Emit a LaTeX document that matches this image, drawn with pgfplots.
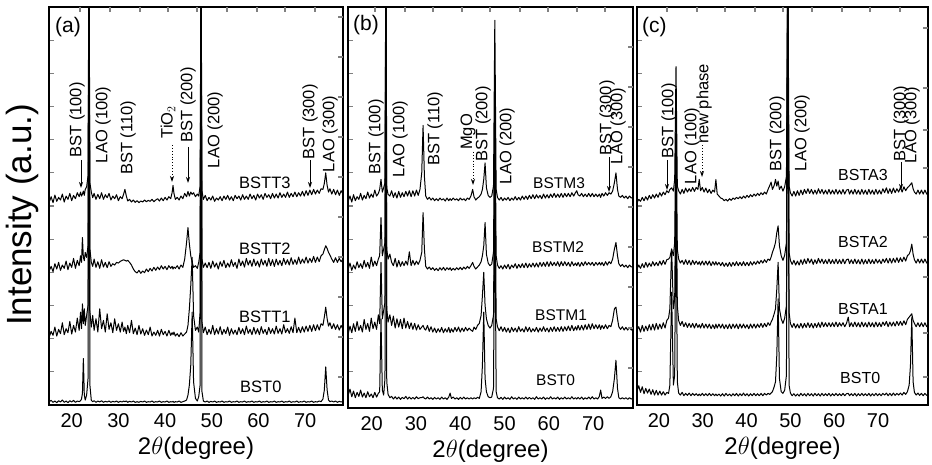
\documentclass[border=0pt]{standalone}
\usepackage{pgfplots}
\pgfplotsset{compat=1.18}
\usepackage{pgfplotstable}
\usepackage{fontspec}
\setmainfont{Liberation Sans}
\usetikzlibrary{arrows.meta}

% Panel (a): BST0, BSTT1, BSTT2, BSTT3
\pgfplotstableread{
x t0 t1 t2 t3
15.2 0.10 2.05 4.05 6.12
15.6 0.14 2.22 4.18 6.28
16.0 0.08 2.10 4.02 6.10
16.4 0.12 2.35 4.26 6.33
16.8 0.07 2.08 4.10 6.14
17.2 0.13 2.28 4.30 6.26
17.6 0.09 2.15 4.06 6.18
18.0 0.15 2.48 4.22 6.36
18.4 0.08 2.12 4.12 6.12
18.8 0.12 2.30 4.34 6.30
19.2 0.07 2.18 4.08 6.20
19.6 0.13 2.52 4.28 6.38
20.0 0.09 2.14 4.15 6.16
20.4 0.14 2.40 4.42 6.32
20.8 0.08 2.20 4.12 6.22
21.2 0.12 2.62 4.36 6.40
21.6 0.10 2.25 4.20 6.28
21.9 0.13 2.80 4.50 6.42
22.1 0.18 2.30 4.30 6.30
22.3 0.35 3.05 5.05 6.36
22.5 1.40 2.45 4.45 6.45
22.7 0.30 2.90 4.35 6.32
22.9 0.15 2.40 4.60 6.50
23.2 0.30 2.70 4.45 6.58
23.5 0.80 3.00 4.80 6.90
23.7 14 14 14 14
23.9 0.60 2.80 4.70 6.70
24.2 0.14 2.35 4.30 6.42
24.5 0.10 2.70 4.18 6.25
24.8 0.13 2.25 4.40 6.38
25.2 0.08 2.60 4.15 6.20
25.6 0.12 2.20 4.32 6.35
26.0 0.09 2.90 4.12 6.22
26.4 0.13 2.30 4.38 6.40
26.8 0.08 2.55 4.16 6.20
27.2 0.11 2.20 4.30 6.34
27.6 0.09 2.75 4.14 6.25
28.0 0.12 2.28 4.32 6.38
28.4 0.08 2.48 4.18 6.18
28.8 0.11 2.18 4.26 6.30
29.2 0.09 2.60 4.22 6.22
29.6 0.12 2.25 4.30 6.34
30.0 0.08 2.45 4.28 6.16
30.4 0.11 2.20 4.33 6.28
30.8 0.09 2.50 4.36 6.22
31.1 0.12 2.22 4.38 6.35
31.4 0.10 2.35 4.36 6.50
31.7 0.12 2.15 4.34 6.30
32.0 0.08 2.40 4.36 6.15
32.4 0.11 2.18 4.30 6.20
32.8 0.09 2.55 4.22 6.12
33.2 0.12 2.15 4.10 6.18
33.6 0.08 2.32 4.02 6.11
34.0 0.10 2.12 3.98 6.16
34.4 0.08 2.40 4.06 6.10
34.8 0.11 2.14 3.97 6.15
35.2 0.09 2.30 4.04 6.12
35.6 0.12 2.10 3.99 6.18
36.0 0.08 2.26 4.10 6.13
36.4 0.10 2.12 4.02 6.17
36.8 0.09 2.35 4.12 6.14
37.2 0.12 2.08 4.04 6.20
37.6 0.08 2.20 4.15 6.13
38.0 0.10 2.10 4.06 6.18
38.4 0.09 2.25 4.16 6.22
38.8 0.12 2.08 4.08 6.15
39.2 0.08 2.28 4.20 6.24
39.6 0.10 2.12 4.10 6.16
40.0 0.09 2.22 4.18 6.26
40.4 0.12 2.08 4.08 6.18
40.8 0.08 2.25 4.20 6.28
41.2 0.10 2.10 4.12 6.22
41.5 0.09 2.18 4.18 6.40
41.7 0.11 2.12 4.10 6.62
41.9 0.08 2.20 4.16 6.38
42.2 0.10 2.08 4.12 6.20
42.6 0.09 2.15 4.20 6.26
43.0 0.12 2.06 4.10 6.18
43.4 0.08 2.18 4.22 6.30
43.8 0.10 2.08 4.15 6.22
44.2 0.12 2.14 4.40 6.38
44.6 0.15 2.20 4.90 6.28
44.9 0.30 2.40 5.35 6.44
45.2 0.60 2.90 4.85 6.30
45.5 1.20 3.60 4.50 6.42
45.8 2.80 4.45 4.30 6.35
46.1 0.70 2.70 4.15 6.40
46.5 0.20 2.25 4.20 6.28
46.9 0.12 2.35 4.12 6.36
47.2 0.25 2.20 4.30 6.30
47.5 0.60 2.80 4.60 6.60
47.7 14 14 14 14
47.9 0.40 2.50 4.40 6.45
48.2 0.12 2.18 4.15 6.20
48.6 0.09 2.35 4.28 6.32
49.0 0.12 2.12 4.14 6.16
49.4 0.08 2.28 4.30 6.26
49.8 0.11 2.14 4.12 6.18
50.2 0.09 2.40 4.34 6.30
50.6 0.12 2.12 4.16 6.14
51.0 0.08 2.30 4.28 6.24
51.4 0.10 2.14 4.10 6.18
51.8 0.09 2.36 4.32 6.28
52.2 0.12 2.12 4.18 6.16
52.6 0.08 2.28 4.36 6.30
53.0 0.10 2.15 4.14 6.20
53.4 0.09 2.35 4.28 6.32
53.8 0.12 2.10 4.16 6.18
54.2 0.08 2.30 4.38 6.28
54.6 0.10 2.14 4.18 6.16
55.0 0.09 2.26 4.30 6.32
55.4 0.12 2.12 4.12 6.22
55.8 0.08 2.34 4.40 6.30
56.2 0.10 2.15 4.20 6.18
56.6 0.09 2.30 4.34 6.34
57.0 0.12 2.12 4.16 6.20
57.4 0.08 2.38 4.42 6.30
57.8 0.10 2.16 4.22 6.20
58.2 0.09 2.28 4.36 6.36
58.6 0.12 2.12 4.18 6.22
59.0 0.08 2.34 4.40 6.32
59.4 0.10 2.14 4.20 6.18
59.8 0.09 2.30 4.34 6.36
60.2 0.12 2.12 4.16 6.24
60.6 0.08 2.36 4.40 6.34
61.0 0.10 2.16 4.22 6.20
61.4 0.09 2.28 4.36 6.38
61.8 0.12 2.12 4.18 6.26
62.2 0.08 2.34 4.42 6.34
62.6 0.10 2.16 4.20 6.22
63.0 0.09 2.30 4.38 6.38
63.4 0.12 2.14 4.18 6.24
63.8 0.08 2.38 4.40 6.36
64.2 0.10 2.16 4.22 6.24
64.6 0.09 2.30 4.36 6.40
65.0 0.12 2.14 4.20 6.26
65.4 0.08 2.42 4.42 6.36
65.8 0.10 2.18 4.24 6.26
66.2 0.09 2.30 4.38 6.42
66.6 0.12 2.16 4.22 6.26
67.0 0.08 2.36 4.44 6.38
67.4 0.10 2.18 4.24 6.28
67.8 0.09 2.62 4.38 6.42
68.2 0.12 2.18 4.24 6.28
68.6 0.08 2.34 4.46 6.40
69.0 0.10 2.18 4.26 6.30
69.4 0.09 2.36 4.40 6.44
69.8 0.12 2.20 4.28 6.30
70.2 0.08 2.38 4.46 6.46
70.6 0.10 2.22 4.28 6.32
71.0 0.09 2.40 4.42 6.48
71.4 0.12 2.22 4.30 6.34
71.8 0.08 2.42 4.48 6.50
72.2 0.10 2.24 4.30 6.36
72.6 0.09 2.42 4.46 6.48
73.0 0.12 2.26 4.32 6.38
73.4 0.10 2.45 4.50 6.52
73.8 0.18 2.40 4.55 6.50
74.1 0.45 2.65 4.68 6.68
74.4 1.15 2.95 4.80 7.00
74.7 0.45 2.60 4.72 6.62
75.0 0.15 2.38 4.60 6.42
75.3 0.10 2.48 4.52 6.52
75.7 0.12 2.30 4.40 6.36
76.1 0.09 2.45 4.30 6.50
76.5 0.12 2.28 4.44 6.34
76.9 0.08 2.42 4.30 6.48
77.3 0.11 2.26 4.42 6.32
77.7 0.09 2.40 4.32 6.46
78.1 0.11 2.28 4.40 6.36
}\tabA

% Panel (b): BST0, BSTM1, BSTM2, BSTM3
\pgfplotstableread{
x t0 t1 t2 t3
14.7 0.30 2.15 4.10 6.15
15.1 0.48 2.38 4.28 6.30
15.5 0.25 2.18 4.06 6.12
15.9 0.42 2.45 4.22 6.34
16.3 0.22 2.22 4.10 6.16
16.7 0.38 2.52 4.32 6.28
17.1 0.26 2.25 4.14 6.20
17.5 0.45 2.40 4.26 6.38
17.9 0.24 2.20 4.12 6.18
18.3 0.36 2.58 4.36 6.32
18.7 0.22 2.28 4.16 6.22
19.1 0.40 2.46 4.30 6.42
19.5 0.25 2.22 4.12 6.24
19.9 0.33 2.62 4.46 6.36
20.3 0.22 2.30 4.18 6.26
20.7 0.38 2.50 4.34 6.48
21.1 0.24 2.28 4.20 6.30
21.5 0.35 2.72 4.40 6.38
21.8 0.40 2.45 4.50 6.50
22.1 2.60 4.30 5.65 6.80
22.4 0.45 2.60 4.50 6.42
22.7 0.30 2.85 4.70 6.55
23.0 0.80 3.10 4.90 6.70
23.2 14 14 14 14
23.4 0.70 2.90 4.70 6.55
23.7 0.32 2.50 4.40 6.35
24.1 0.22 2.72 4.55 6.30
24.5 0.26 2.40 4.30 6.46
24.9 0.18 2.68 4.20 6.26
25.3 0.25 2.32 4.42 6.40
25.7 0.18 2.60 4.16 6.24
26.1 0.24 2.35 4.36 6.44
26.5 0.17 2.58 4.18 6.26
26.9 0.23 2.30 4.32 6.40
27.3 0.19 2.62 4.20 6.28
27.7 0.26 2.32 4.34 6.44
28.1 0.18 2.52 4.22 6.30
28.5 0.24 2.30 4.62 6.46
28.9 0.18 2.48 4.20 6.28
29.3 0.23 2.28 4.36 6.46
29.7 0.18 2.46 4.22 6.30
30.1 0.25 2.26 4.34 6.48
30.5 0.19 2.42 4.24 6.32
30.9 0.22 2.28 4.36 6.50
31.3 0.22 2.35 4.60 7.00
31.6 0.25 2.40 5.80 8.43
31.9 0.20 2.30 4.70 6.90
32.2 0.18 2.26 4.18 6.30
32.6 0.24 2.40 4.10 6.20
33.0 0.18 2.22 4.16 6.26
33.4 0.22 2.36 4.08 6.18
33.8 0.17 2.20 4.14 6.24
34.2 0.23 2.32 4.06 6.16
34.6 0.18 2.18 4.12 6.22
35.0 0.22 2.30 4.05 6.16
35.4 0.17 2.20 4.14 6.24
35.8 0.24 2.34 4.07 6.18
36.2 0.18 2.18 4.15 6.22
36.6 0.22 2.30 4.06 6.15
37.0 0.17 2.20 4.14 6.24
37.4 0.24 2.34 4.08 6.16
37.7 0.36 2.18 4.14 6.22
38.0 0.20 2.30 4.06 6.17
38.4 0.24 2.20 4.12 6.24
38.8 0.18 2.34 4.07 6.18
39.2 0.22 2.22 4.14 6.22
39.6 0.17 2.35 4.08 6.16
40.0 0.23 2.20 4.15 6.24
40.4 0.18 2.32 4.08 6.18
40.8 0.24 2.22 4.16 6.22
41.2 0.18 2.34 4.10 6.16
41.6 0.22 2.24 4.18 6.24
42.0 0.18 2.32 4.12 6.20
42.4 0.22 2.26 4.20 6.30
42.8 0.18 2.22 4.30 6.50
43.1 0.22 2.35 4.18 6.28
43.5 0.19 2.28 4.10 6.18
43.9 0.23 2.40 4.16 6.24
44.3 0.20 2.46 4.22 6.28
44.7 0.40 2.70 4.32 6.36
45.0 1.20 3.30 4.50 6.50
45.3 2.80 4.00 4.80 6.80
45.6 0.80 3.00 5.50 7.30
45.9 0.40 2.60 4.55 6.55
46.3 0.25 2.40 4.28 6.32
46.7 0.22 2.32 4.20 6.26
47.1 0.24 2.40 4.25 6.30
47.5 0.50 2.70 4.60 6.60
47.8 6.50 8.00 9.80 11.60
48.1 0.40 2.60 4.50 6.50
48.4 0.22 2.36 4.22 6.26
48.8 0.18 2.24 4.12 6.18
49.2 0.23 2.36 4.20 6.26
49.6 0.17 2.22 4.10 6.16
50.0 0.24 2.34 4.22 6.24
50.4 0.18 2.20 4.12 6.18
50.8 0.22 2.32 4.24 6.26
51.2 0.17 2.18 4.10 6.16
51.6 0.25 2.34 4.22 6.24
52.0 0.18 2.22 4.14 6.18
52.4 0.22 2.32 4.26 6.28
52.8 0.17 2.20 4.12 6.18
53.2 0.24 2.36 4.24 6.26
53.6 0.18 2.22 4.14 6.18
54.0 0.22 2.30 4.26 6.30
54.4 0.18 2.20 4.14 6.20
54.8 0.24 2.36 4.28 6.30
55.2 0.18 2.22 4.14 6.20
55.6 0.23 2.34 4.26 6.32
56.0 0.18 2.20 4.16 6.22
56.4 0.22 2.30 4.28 6.34
56.8 0.17 2.22 4.16 6.22
57.2 0.25 2.34 4.28 6.34
57.6 0.18 2.20 4.16 6.24
58.0 0.22 2.32 4.30 6.32
58.4 0.18 2.22 4.18 6.22
58.8 0.24 2.36 4.30 6.36
59.2 0.17 2.22 4.18 6.24
59.6 0.22 2.32 4.32 6.34
60.0 0.18 2.20 4.18 6.24
60.4 0.25 2.34 4.32 6.36
60.8 0.18 2.22 4.20 6.26
61.2 0.22 2.36 4.30 6.38
61.6 0.18 2.22 4.20 6.26
62.0 0.24 2.34 4.32 6.36
62.4 0.17 2.22 4.18 6.26
62.8 0.22 2.36 4.32 6.38
63.2 0.18 2.22 4.20 6.26
63.6 0.24 2.36 4.32 6.38
64.0 0.18 2.24 4.20 6.28
64.4 0.22 2.38 4.30 6.38
64.8 0.18 2.24 4.18 6.28
65.2 0.25 2.40 4.32 6.40
65.6 0.18 2.24 4.20 6.30
66.0 0.22 2.36 4.28 6.40
66.3 0.18 2.26 4.20 6.46
66.6 0.23 2.40 4.30 6.34
67.0 0.18 2.26 4.18 6.30
67.4 0.24 2.40 4.30 6.38
67.8 0.17 2.26 4.20 6.28
68.2 0.22 2.42 4.32 6.36
68.6 0.18 2.28 4.22 6.28
69.0 0.24 2.44 4.30 6.38
69.4 0.18 2.28 4.22 6.28
69.8 0.25 2.45 4.30 6.38
70.2 0.18 2.30 4.20 6.28
70.6 0.22 2.42 4.30 6.36
71.0 0.18 2.30 4.22 6.28
71.4 0.26 2.42 4.30 6.36
71.7 0.45 2.28 4.22 6.26
72.0 0.20 2.40 4.30 6.38
72.4 0.24 2.30 4.20 6.30
72.8 0.20 2.42 4.32 6.40
73.2 0.25 2.30 4.22 6.32
73.6 0.20 2.40 4.32 6.40
74.0 0.25 2.36 4.26 6.36
74.4 0.40 2.56 4.40 6.45
74.8 0.80 2.90 4.70 6.70
75.15 1.35 2.95 4.90 7.00
75.5 0.50 2.60 4.50 6.50
75.8 0.22 2.36 4.26 6.30
76.2 0.18 2.28 4.18 6.26
76.6 0.22 2.36 4.24 6.32
77.0 0.18 2.26 4.16 6.24
77.4 0.22 2.34 4.22 6.30
77.8 0.17 2.26 4.14 6.22
78.2 0.22 2.34 4.22 6.30
78.6 0.18 2.26 4.16 6.24
79.0 0.20 2.30 4.18 6.26
}\tabB

% Panel (c): BST0, BSTA1, BSTA2, BSTA3
\pgfplotstableread{
x t0 t1 t2 t3
15.0 0.42 2.25 4.10 6.10
15.4 0.58 2.36 4.22 6.20
15.8 0.38 2.20 4.12 6.14
16.2 0.55 2.40 4.26 6.26
16.6 0.34 2.22 4.14 6.16
17.0 0.50 2.38 4.30 6.28
17.4 0.36 2.24 4.16 6.18
17.8 0.48 2.42 4.28 6.32
18.2 0.32 2.26 4.18 6.22
18.6 0.46 2.44 4.32 6.34
19.0 0.30 2.26 4.20 6.24
19.4 0.44 2.46 4.30 6.36
19.8 0.30 2.28 4.20 6.26
20.2 0.42 2.44 4.34 6.40
20.6 0.30 2.30 4.22 6.30
21.0 0.40 2.48 4.36 6.42
21.4 0.30 2.32 4.24 6.34
21.8 0.38 2.55 4.38 6.46
22.2 0.35 2.62 4.40 6.40
22.5 0.60 2.90 4.45 6.50
22.9 3.40 4.70 4.70 6.55
23.3 0.60 2.90 4.50 6.45
23.6 0.90 3.20 4.90 6.80
23.9 6.50 7.50 9.00 10.20
24.2 0.70 3.00 4.70 6.60
24.5 0.36 2.55 4.40 6.46
24.9 0.30 2.40 4.28 6.36
25.3 0.38 2.52 4.36 6.50
25.7 0.28 2.36 4.24 6.38
26.1 0.35 2.48 4.38 6.54
26.5 0.29 2.34 4.24 6.42
26.9 0.36 2.46 4.36 6.52
27.3 0.28 2.34 4.22 6.44
27.7 0.35 2.46 4.36 6.56
28.1 0.29 2.32 4.24 6.44
28.5 0.34 2.46 4.34 6.56
28.9 0.28 2.34 4.24 6.50
29.2 0.33 2.42 4.32 6.80
29.5 0.28 2.32 4.22 6.46
29.9 0.35 2.46 4.34 6.56
30.3 0.28 2.32 4.22 6.42
30.7 0.34 2.44 4.34 6.54
31.1 0.28 2.32 4.22 6.40
31.5 0.35 2.44 4.34 6.50
31.9 0.28 2.30 4.20 6.38
32.3 0.34 2.42 4.32 6.48
32.7 0.28 2.30 4.22 6.42
33.0 0.33 2.44 4.32 6.80
33.3 0.28 2.32 4.22 6.36
33.7 0.33 2.44 4.30 6.30
34.1 0.27 2.32 4.20 6.24
34.5 0.34 2.44 4.30 6.22
34.9 0.27 2.30 4.18 6.16
35.3 0.35 2.42 4.28 6.20
35.7 0.28 2.30 4.18 6.15
36.1 0.33 2.44 4.30 6.22
36.5 0.27 2.30 4.18 6.17
36.9 0.34 2.44 4.30 6.24
37.3 0.28 2.32 4.20 6.20
37.7 0.35 2.44 4.32 6.26
38.1 0.27 2.30 4.20 6.22
38.5 0.34 2.44 4.30 6.28
38.9 0.28 2.32 4.20 6.22
39.3 0.36 2.44 4.32 6.30
39.7 0.28 2.32 4.20 6.24
40.1 0.34 2.42 4.30 6.32
40.5 0.27 2.30 4.20 6.26
40.9 0.34 2.44 4.32 6.34
41.3 0.28 2.32 4.22 6.28
41.7 0.35 2.44 4.32 6.36
42.1 0.28 2.32 4.24 6.30
42.5 0.34 2.44 4.34 6.38
42.9 0.28 2.34 4.26 6.32
43.3 0.35 2.46 4.36 6.40
43.7 0.28 2.34 4.28 6.34
44.1 0.35 2.46 4.38 6.42
44.5 0.30 2.36 4.30 6.36
44.9 0.35 2.48 4.40 6.50
45.3 0.32 2.40 4.36 6.62
45.6 0.36 2.50 4.46 6.72
45.9 0.40 2.58 4.60 6.50
46.3 0.55 2.75 4.75 6.62
46.6 0.70 2.90 4.90 6.80
46.9 1.50 3.50 5.20 6.60
47.2 3.20 4.30 5.40 6.75
47.5 0.80 2.90 4.80 6.50
47.9 0.40 2.60 4.50 6.60
48.3 0.35 2.46 4.36 6.45
48.7 0.45 2.62 4.52 6.58
49.1 0.90 3.00 4.90 6.90
49.4 14 14 14 14
49.7 0.60 2.80 4.60 6.60
50.0 0.36 2.46 4.36 6.40
50.4 0.28 2.34 4.24 6.30
50.8 0.34 2.46 4.36 6.44
51.2 0.27 2.32 4.22 6.30
51.6 0.33 2.44 4.34 6.46
52.0 0.27 2.32 4.22 6.32
52.4 0.35 2.46 4.38 6.48
52.8 0.28 2.32 4.24 6.34
53.2 0.34 2.46 4.40 6.50
53.6 0.27 2.34 4.26 6.38
54.0 0.35 2.48 4.42 6.52
54.4 0.28 2.34 4.28 6.38
54.8 0.34 2.46 4.40 6.50
55.2 0.27 2.32 4.24 6.36
55.6 0.35 2.46 4.38 6.48
56.0 0.28 2.34 4.26 6.36
56.4 0.34 2.48 4.42 6.52
56.8 0.27 2.34 4.28 6.38
57.2 0.35 2.50 4.40 6.50
57.6 0.28 2.36 4.26 6.36
58.0 0.34 2.48 4.38 6.48
58.4 0.28 2.36 4.26 6.36
58.8 0.35 2.48 4.40 6.50
59.2 0.27 2.36 4.26 6.36
59.6 0.34 2.48 4.38 6.48
60.0 0.28 2.36 4.26 6.36
60.4 0.35 2.50 4.40 6.50
60.8 0.28 2.36 4.26 6.36
61.2 0.34 2.48 4.38 6.48
61.6 0.28 2.38 4.26 6.36
62.0 0.35 2.48 4.40 6.50
62.4 0.28 2.36 4.26 6.36
62.8 0.34 2.46 4.38 6.48
63.2 0.35 2.65 4.40 6.50
63.5 0.28 2.36 4.26 6.36
63.9 0.34 2.48 4.38 6.48
64.3 0.28 2.36 4.26 6.36
64.7 0.35 2.50 4.40 6.50
65.1 0.27 2.36 4.26 6.36
65.5 0.34 2.48 4.38 6.48
65.9 0.28 2.35 4.25 6.35
66.3 0.35 2.50 4.40 6.50
66.7 0.28 2.36 4.25 6.36
67.1 0.34 2.48 4.38 6.48
67.5 0.28 2.35 4.26 6.35
67.9 0.35 2.50 4.40 6.50
68.3 0.27 2.36 4.26 6.36
68.7 0.34 2.48 4.38 6.48
69.1 0.28 2.35 4.26 6.35
69.5 0.35 2.50 4.40 6.50
69.9 0.28 2.36 4.28 6.36
70.3 0.34 2.48 4.38 6.48
70.7 0.28 2.36 4.26 6.36
71.1 0.35 2.50 4.40 6.52
71.5 0.30 2.40 4.30 6.40
71.9 0.36 2.52 4.42 6.55
72.3 0.28 2.36 4.28 6.38
72.7 0.35 2.50 4.42 6.52
73.1 0.28 2.38 4.28 6.38
73.5 0.36 2.50 4.42 6.54
73.9 0.29 2.38 4.30 6.40
74.3 0.35 2.52 4.44 6.52
74.7 0.30 2.40 4.30 6.42
75.1 0.36 2.52 4.44 6.56
75.5 0.30 2.40 4.32 6.42
75.9 0.38 2.54 4.46 6.58
76.3 0.32 2.42 4.34 6.46
76.7 0.40 2.58 4.50 6.55
77.1 0.60 2.65 4.55 6.60
77.4 1.20 2.70 4.65 6.65
77.7 2.65 2.75 4.85 6.70
78.0 0.70 2.55 4.55 6.52
78.3 0.38 2.46 4.38 6.42
78.7 0.30 2.36 4.28 6.36
79.1 0.36 2.48 4.40 6.48
79.5 0.29 2.36 4.28 6.36
79.9 0.35 2.48 4.40 6.48
80.3 0.28 2.36 4.28 6.36
80.7 0.35 2.48 4.40 6.48
81.1 0.29 2.36 4.28 6.36
81.4 0.32 2.42 4.34 6.42
}\tabC

\pgfplotsset{
  xrd/.style={
    scale only axis, anchor=south west,
    ymin=0, ymax=12,
    axis line style={line width=1.4pt},
    xtick={20,30,40,50,60,70},
    xtick style={draw=none},
    ytick={1,2,...,11}, yticklabels={}, ytick pos=left,
    tick align=inside, major tick length=5pt,
    ytick style={line width=1.2pt},
    xticklabel style={font=\fontsize{20}{22}\selectfont, yshift=-5pt},
    /pgf/number format/assume math mode=true,
    xlabel={2$\theta$(degree)},
    xlabel style={font=\fontsize{24}{26}\selectfont, at={(axis description cs:0.5,0)}, anchor=north, inner sep=0pt, yshift=-32pt},
    cycle list={{black}},
    every axis plot post/.append style={black, line width=1.0pt, line join=round, mark=none},
  },
  tk/.style={
    scale only axis, anchor=south west,
    axis line style={draw=none},
    xticklabels={}, yticklabels={},
    xtick pos=right, ytick pos=right,
    tick align=inside, major tick length=5pt,
    tick style={line width=1.2pt},
  },
}

\tikzset{
  pk/.style={rotate=90, font=\fontsize{16.5}{18}\selectfont, inner sep=0pt},
  sm/.style={font=\fontsize{16.5}{18}\selectfont, inner sep=0pt, anchor=west},
  ar/.style={-{Stealth[length=6pt,width=4pt]}, line width=0.9pt},
  dar/.style={-{Stealth[length=6pt,width=4pt]}, line width=0.9pt, dotted},
}

\begin{document}
\begin{tikzpicture}[x=1pt,y=1pt]
\useasboundingbox (0,0) rectangle (932,465);

% ---------- (a)
\begin{axis}[xrd, at={(49pt,60pt)}, width=294pt, height=398pt, xmin=15.14, xmax=78.1]
\addplot table[x=x,y=t0]{\tabA};
\addplot table[x=x,y=t1]{\tabA};
\addplot table[x=x,y=t2]{\tabA};
\addplot table[x=x,y=t3]{\tabA};
\end{axis}
\begin{axis}[tk, at={(49pt,60pt)}, width=294pt, height=398pt, xmin=0, xmax=294, ymin=0, ymax=398,
  xtick={31,61,91,119,148,178,208,236,266}, ytick={28,68,108,148,188,228,268,308,348,388}]
\end{axis}

% ---------- (b)
\begin{axis}[xrd, at={(348pt,57pt)}, width=285pt, height=401pt, xmin=14.65, xmax=79.0, ymin=-0.09]
\addplot table[x=x,y=t0]{\tabB};
\addplot table[x=x,y=t1]{\tabB};
\addplot table[x=x,y=t2]{\tabB};
\addplot table[x=x,y=t3]{\tabB};
\end{axis}
\begin{axis}[tk, at={(348pt,57pt)}, width=285pt, height=401pt, xmin=0, xmax=285, ymin=0, ymax=401,
  xtick={27,57,85,114,142,172,200,229,257}, ytick={40,80,121,161,201,241,281,321,361}]
\end{axis}

% ---------- (c)
\begin{axis}[xrd, at={(637pt,60pt)}, width=291pt, height=398pt, xmin=15.0, xmax=81.4]
\addplot table[x=x,y=t0]{\tabC};
\addplot table[x=x,y=t1]{\tabC};
\addplot table[x=x,y=t2]{\tabC};
\addplot table[x=x,y=t3]{\tabC};
\end{axis}
\begin{axis}[tk, at={(637pt,60pt)}, width=291pt, height=398pt, xmin=0, xmax=291, ymin=0, ymax=398,
  xtick={30,60,88,118,146,175,205,233,263}, ytick={28,72,128,168,237,275,317,377}]
\end{axis}

% y label
\node[rotate=90, font=\fontsize{35}{38}\selectfont] at (22,250) {Intensity (a.u.)};

% panel letters
\node[font=\fontsize{21}{23}\selectfont, anchor=west, inner sep=0pt] at (55,438) {(a)};
\node[font=\fontsize{21}{23}\selectfont, anchor=west, inner sep=0pt] at (353,440) {(b)};
\node[font=\fontsize{21}{23}\selectfont, anchor=west, inner sep=0pt] at (642,438) {(c)};

% (a) annotations
\node[pk] at (77,345) {BST (100)};
\draw[ar] (81,305) -- (81,277);
\node[pk] at (103,340) {LAO (100)};
\node[pk] at (128,327) {BST (110)};
\node[pk] at (168,343) {TiO$_2$};
\draw[dar] (172,320) -- (172,283);
\node[pk] at (188,360) {BST (200)};
\draw[ar] (188,318) -- (188,282);
\node[pk] at (215,335) {LAO (200)};
\node[pk] at (310,343) {BST (300)};
\draw[ar] (310,305) -- (310,277);
\node[pk] at (330,331) {LAO (300)};
\node[sm] at (239,282) {BSTT3};
\node[sm] at (239,216) {BSTT2};
\node[sm] at (239,148) {BSTT1};
\node[sm] at (240,78) {BST0};

% (b) annotations
\node[pk] at (376,328) {BST (100)};
\node[pk] at (400,326) {LAO (100)};
\node[pk] at (435,336) {BST (110)};
\node[pk] at (468,333) {MgO};
\draw[dar] (473,313) -- (473,280);
\node[pk] at (483,341) {BST (200)};
\node[pk] at (507,319) {LAO (200)};
\node[pk] at (607,347) {BST (300)};
\draw[ar] (609,308) -- (609,273);
\node[pk] at (618,339) {LAO (300)};
\node[sm, font=\fontsize{15.5}{17}\selectfont] at (533,282) {BSTM3};
\node[sm, font=\fontsize{15.5}{17}\selectfont] at (532,218) {BSTM2};
\node[sm, font=\fontsize{15.5}{17}\selectfont] at (535,150) {BSTM1};
\node[sm, font=\fontsize{15.5}{17}\selectfont] at (536,85) {BST0};

% (c) annotations
\node[pk] at (669,344) {BST (100)};
\draw[ar] (667,305) -- (667,275);
\node[pk] at (692,319) {LAO (100)};
\node[pk] at (704,361) {new phase};
\draw[dar] (702,320) -- (702,288);
\node[pk] at (777,331) {BST (200)};
\node[pk] at (802,332) {LAO (200)};
\node[pk] at (901,341) {BST (300)};
\draw[ar] (901,303) -- (901,275);
\node[pk] at (912,340) {LAO (300)};
\node[sm, font=\fontsize{16}{17}\selectfont] at (838,290) {BSTA3};
\node[sm, font=\fontsize{16}{17}\selectfont] at (838,223) {BSTA2};
\node[sm, font=\fontsize{16}{17}\selectfont] at (838,156) {BSTA1};
\node[sm, font=\fontsize{16}{17}\selectfont] at (840,87) {BST0};
\end{tikzpicture}
\end{document}
